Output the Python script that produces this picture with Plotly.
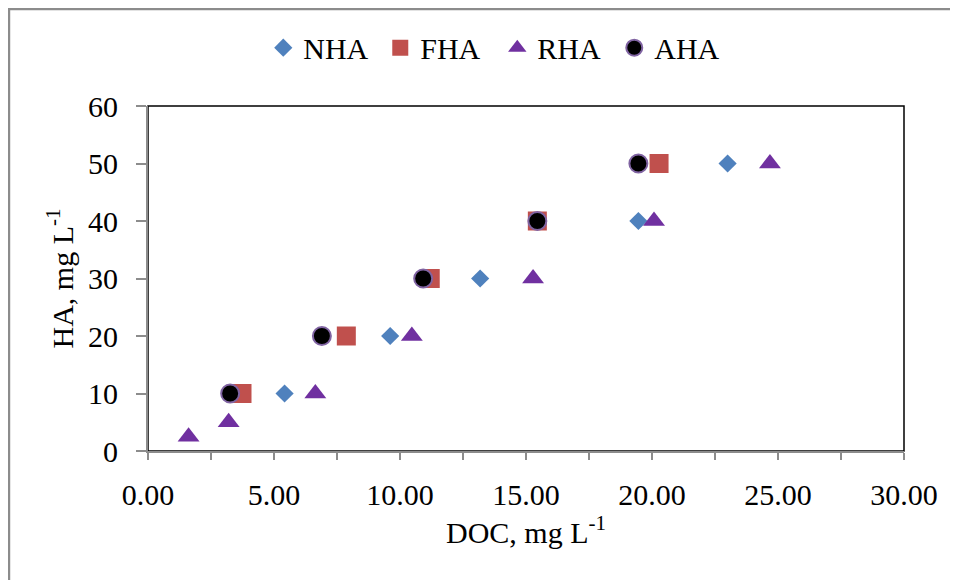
import plotly.graph_objects as go

# Data
nha_doc = [5.42, 9.61, 13.18, 19.46, 23.00]
nha_ha = [10, 20, 30, 40, 50]

fha_doc = [3.73, 7.87, 11.20, 15.45, 20.28]
fha_ha = [10, 20, 30, 40, 50]

rha_doc = [1.61, 3.20, 6.64, 10.47, 15.28, 20.08, 24.68]
rha_ha = [2.5, 5, 10, 20, 30, 40, 50]

aha_doc = [3.26, 6.90, 10.92, 15.45, 19.46]
aha_ha = [10, 20, 30, 40, 50]

x_ticks = [0, 5, 10, 15, 20, 25, 30]
x_tick_labels = ["0.00", "5.00", "10.00", "15.00", "20.00", "25.00", "30.00"]
y_ticks = [0, 10, 20, 30, 40, 50, 60]

FONT = "Liberation Serif, Times New Roman, serif"
FS = 30

fig = go.Figure()
fig.add_trace(go.Scatter(x=nha_doc, y=nha_ha, mode="markers", name="NHA",
                         marker=dict(symbol="diamond", size=14, color="#4F81BD")))
fig.add_trace(go.Scatter(x=fha_doc, y=fha_ha, mode="markers", name="FHA",
                         marker=dict(symbol="square", size=19, color="#C0504D")))
fig.add_trace(go.Scatter(x=rha_doc, y=rha_ha, mode="markers", name="RHA",
                         marker=dict(symbol="triangle-up", size=19, color="#7030A0")))
fig.add_trace(go.Scatter(x=aha_doc, y=aha_ha, mode="markers", name="AHA",
                         marker=dict(symbol="circle", size=18, color="black",
                                     line=dict(color="#8064A2", width=2))))

# Outer chart border (gray) and plot-area border (black)
fig.add_shape(type="rect", xref="paper", yref="paper",
              x0=-0.1839, y0=-0.5, x1=1.2, y1=1.2812,
              line=dict(color="#8c8c8c", width=2.5), layer="below")
fig.add_shape(type="rect", xref="paper", yref="paper",
              x0=0, y0=0, x1=1, y1=1,
              line=dict(color="black", width=1.5), layer="below")

fig.update_layout(
    width=958, height=580,
    margin=dict(l=140, r=62, t=98, b=137, autoexpand=False),
    paper_bgcolor="white", plot_bgcolor="white",
    font=dict(family=FONT, size=FS, color="black"),
    showlegend=True,
    legend=dict(orientation="h", x=0.462, xanchor="center", y=1.169, yanchor="middle",
                font=dict(family=FONT, size=FS), entrywidth=72,
                itemsizing="trace", bgcolor="rgba(0,0,0,0)"),
)
fig.update_xaxes(range=[0, 30], tickvals=x_ticks, ticktext=x_tick_labels,
                 showgrid=False, zeroline=False,
                 showline=True, linecolor="#8c8c8c", linewidth=2,
                 ticks="outside", ticklen=7, tickcolor="#8c8c8c", tickwidth=2,
                 minor=dict(dtick=2.5, ticks="outside", ticklen=7,
                            tickcolor="#8c8c8c", tickwidth=2),
                 ticklabelstandoff=9,
                 tickfont=dict(family=FONT, size=FS),
                 title=dict(text="DOC, mg L<sup>-1</sup>", font=dict(family=FONT, size=FS),
                            standoff=10))
fig.update_yaxes(range=[0, 60], tickvals=y_ticks,
                 showgrid=False, zeroline=False,
                 showline=True, linecolor="#8c8c8c", linewidth=2,
                 ticks="outside", ticklen=10, tickcolor="#8c8c8c", tickwidth=2,
                 ticklabelstandoff=12,
                 tickfont=dict(family=FONT, size=FS),
                 title=dict(text="HA, mg L<sup>-1</sup>", font=dict(family=FONT, size=FS),
                            standoff=6))

fig.write_html("out.html")
